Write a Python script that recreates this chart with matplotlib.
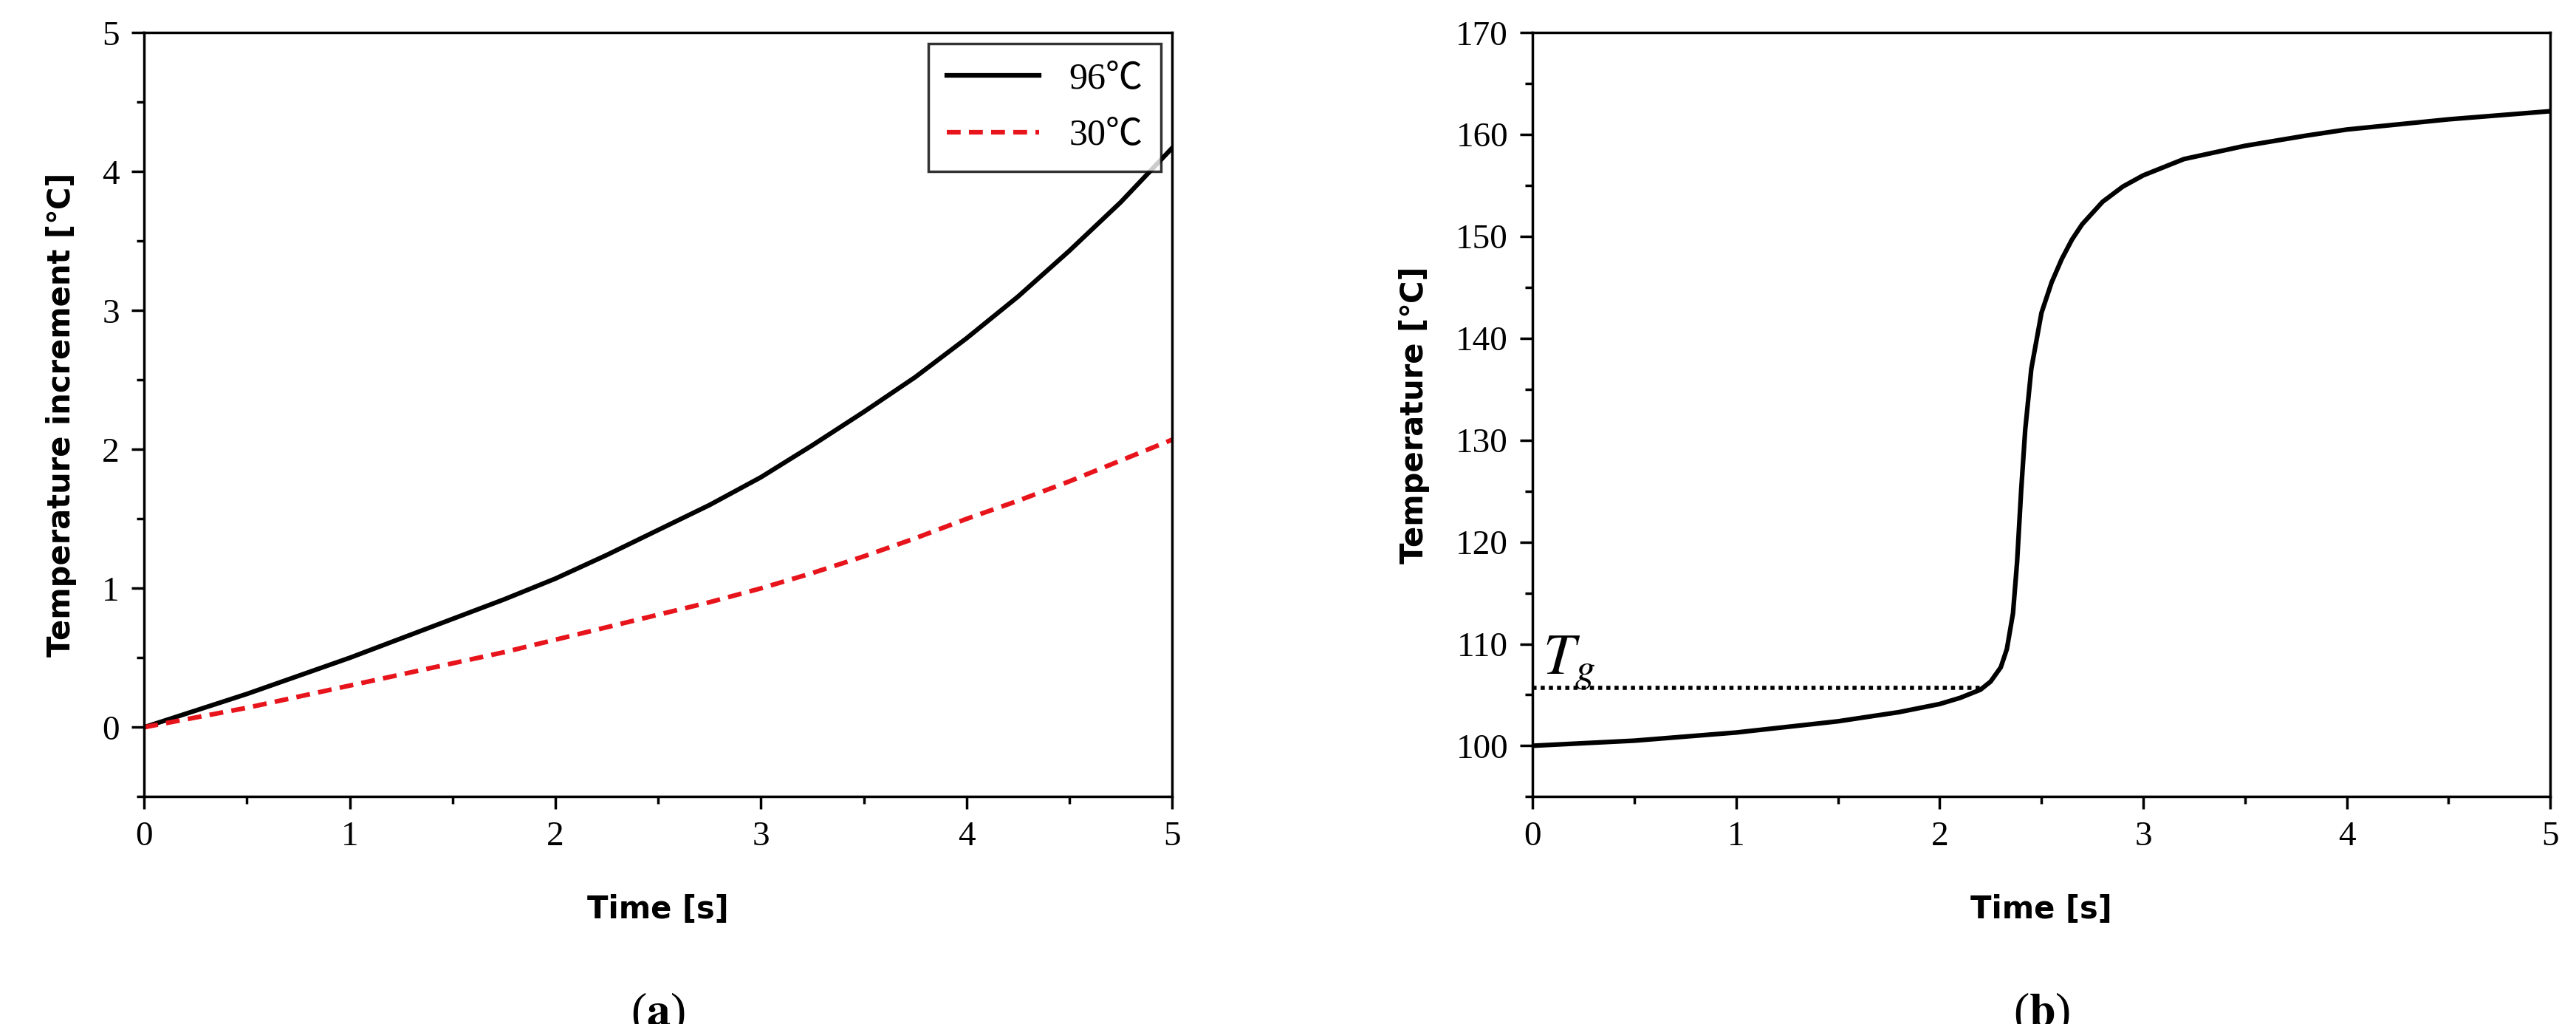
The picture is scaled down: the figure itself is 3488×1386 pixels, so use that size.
import matplotlib
matplotlib.use("Agg")
import matplotlib.pyplot as plt
from matplotlib.ticker import MultipleLocator

plt.rcParams["mathtext.fontset"] = "stix"

# ---- data ----
time_a = [0, 0.25, 0.5, 0.75, 1, 1.25, 1.5, 1.75, 2, 2.25, 2.5, 2.75, 3, 3.25, 3.5, 3.75, 4, 4.25, 4.5, 4.75, 5]
inc_96 = [0, 0.12, 0.24, 0.37, 0.50, 0.64, 0.78, 0.92, 1.07, 1.24, 1.42, 1.60, 1.80, 2.03, 2.27, 2.52, 2.80, 3.10, 3.43, 3.78, 4.17]
inc_30 = [0, 0.07, 0.14, 0.22, 0.30, 0.38, 0.46, 0.54, 0.63, 0.72, 0.81, 0.90, 1.00, 1.11, 1.23, 1.36, 1.50, 1.63, 1.77, 1.92, 2.07]

time_b = [0, 0.5, 1, 1.5, 1.8, 2, 2.1, 2.2, 2.25, 2.3, 2.33, 2.36, 2.38, 2.4, 2.42, 2.45, 2.5, 2.55,
          2.6, 2.65, 2.7, 2.8, 2.9, 3, 3.2, 3.5, 3.8, 4, 4.5, 5]
temp_b = [100, 100.5, 101.3, 102.4, 103.3, 104.1, 104.7, 105.5, 106.3, 107.7, 109.5, 113, 118, 125, 131, 137,
          142.5, 145.5, 147.8, 149.7, 151.2, 153.4, 154.9, 156, 157.6, 158.9, 159.9, 160.5, 161.5, 162.3]
tg = 105.7
tg_end = 2.2

tick_family = "Liberation Serif"
label_font = dict(family="DejaVu Sans", size=30, weight="bold")

fig = plt.figure(figsize=(34.88, 13.86), dpi=100)
ax1 = fig.add_axes([0.056, 0.222, 0.399, 0.746])
ax2 = fig.add_axes([0.595, 0.222, 0.395, 0.746])

ax1.plot(time_a, inc_96, color="black", lw=4.5, label="96\u2103")
ax1.plot(time_a, inc_30, color="#e8141c", lw=4.5, ls=(0, (3, 1.8)), label="30\u2103")
ax1.set_xlim(0, 5)
ax1.set_ylim(-0.5, 5)
ax1.yaxis.set_major_locator(MultipleLocator(1))
ax1.yaxis.set_minor_locator(MultipleLocator(0.5))
ax1.set_ylabel("Temperature increment [\u2103]", fontdict=label_font, labelpad=25)
leg = ax1.legend(loc="upper right", fontsize=36, frameon=True, fancybox=False,
                 edgecolor="black", handlelength=2.5, borderpad=0.5, labelspacing=0.6,
                 borderaxespad=0.3)
leg.get_frame().set_linewidth(2.5)
for t in leg.get_texts():
    t.set_family(["Liberation Serif", "Noto Sans CJK SC"])

ax2.plot(time_b, temp_b, color="black", lw=4.5)
ax2.plot([0, tg_end], [tg, tg], color="black", lw=4, ls=(0, (1, 1)))
ax2.text(0.05, 107, "$T_g$", fontsize=56)
ax2.set_xlim(0, 5)
ax2.set_ylim(95, 170)
ax2.yaxis.set_major_locator(MultipleLocator(10))
ax2.yaxis.set_minor_locator(MultipleLocator(5))
ax2.set_ylabel("Temperature [\u2103]", fontdict=label_font, labelpad=25)

for ax, tag in [(ax1, "a"), (ax2, "b")]:
    ax.xaxis.set_major_locator(MultipleLocator(1))
    ax.xaxis.set_minor_locator(MultipleLocator(0.5))
    ax.set_xlabel("Time [s]", fontdict=label_font, labelpad=40)
    ax.tick_params(which="major", direction="out", length=12, width=2.5, pad=12)
    ax.tick_params(which="minor", direction="out", length=7, width=2.5)
    for lab in ax.get_xticklabels() + ax.get_yticklabels():
        lab.set_family(tick_family)
        lab.set_fontsize(34)
    for s in ax.spines.values():
        s.set_linewidth(2.5)
    ax.text(0.5, -0.255, "(" + r"$\mathbf{" + tag + "}$" + ")", transform=ax.transAxes,
            ha="center", va="top", fontsize=46, family="Liberation Serif")

fig.savefig("out.png", dpi=100)
